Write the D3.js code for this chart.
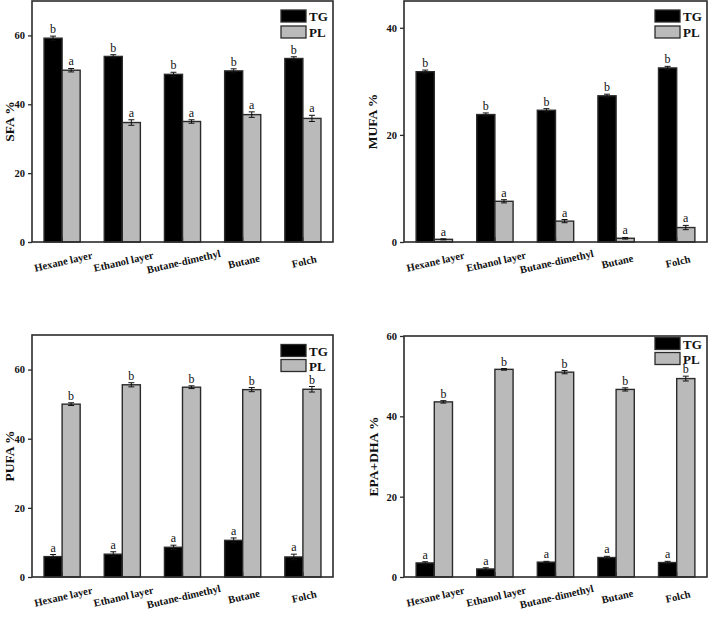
<!DOCTYPE html>
<html>
<head>
<meta charset="utf-8">
<script src="https://cdn.jsdelivr.net/npm/d3@7"></script>
<style>
  html, body { margin: 0; padding: 0; background: #fff; }
  svg { display: block; }
  text { font-family: "Liberation Serif", "Times New Roman", serif; }
</style>
</head>
<body>
<svg id="chart" width="709" height="617"></svg>
<script>
// ---------- data ----------
const categories = ["Hexane layer", "Ethanol layer", "Butane-dimethyl", "Butane", "Folch"];
const series = ["TG", "PL"];

const sfaTG = [59.2, 53.9, 48.7, 49.7, 53.3];
const sfaPL = [49.9, 34.7, 35.0, 37.0, 35.9];
const sfaTGErr = [0.6, 0.5, 0.6, 0.6, 0.5];
const sfaPLErr = [0.5, 0.8, 0.5, 0.8, 0.9];
const sfaTGLetters = ["b", "b", "b", "b", "b"];
const sfaPLLetters = ["a", "a", "a", "a", "a"];
const sfaTicks = [0, 20, 40, 60];

const mufaTG = [31.8, 23.8, 24.6, 27.3, 32.5];
const mufaPL = [0.5, 7.6, 3.9, 0.7, 2.7];
const mufaTGErr = [0.3, 0.3, 0.3, 0.3, 0.3];
const mufaPLErr = [0.1, 0.3, 0.3, 0.15, 0.4];
const mufaTGLetters = ["b", "b", "b", "b", "b"];
const mufaPLLetters = ["a", "a", "a", "a", "a"];
const mufaTicks = [0, 20, 40];

const pufaTG = [5.9, 6.6, 8.6, 10.6, 5.8];
const pufaPL = [50.0, 55.6, 54.9, 54.2, 54.3];
const pufaTGErr = [0.6, 0.7, 0.6, 0.7, 0.8];
const pufaPLErr = [0.4, 0.6, 0.4, 0.6, 0.8];
const pufaTGLetters = ["a", "a", "a", "a", "a"];
const pufaPLLetters = ["b", "b", "b", "b", "b"];
const pufaTicks = [0, 20, 40, 60];

const epaTG = [3.5, 2.0, 3.7, 4.85, 3.6];
const epaPL = [43.6, 51.7, 51.0, 46.7, 49.4];
const epaTGErr = [0.3, 0.3, 0.2, 0.3, 0.3];
const epaPLErr = [0.3, 0.2, 0.4, 0.4, 0.6];
const epaTGLetters = ["a", "a", "a", "a", "a"];
const epaPLLetters = ["b", "b", "b", "b", "b"];
const epaTicks = [0, 20, 40, 60];

const yLabels = ["SFA %", "MUFA %", "PUFA %", "EPA+DHA %"];
const yMaxes = [70, 45, 70, 60];

// ---------- layout ----------
const panels = [
  { title: yLabels[0], tg: sfaTG, pl: sfaPL, tgErr: sfaTGErr, plErr: sfaPLErr, tgL: sfaTGLetters, plL: sfaPLLetters, ticks: sfaTicks, ymax: yMaxes[0],
    left: 32, right: 333, top: 1, bottom: 242, labelX: 13.5, legendY: 10, legendGap: 16 },
  { title: yLabels[1], tg: mufaTG, pl: mufaPL, tgErr: mufaTGErr, plErr: mufaPLErr, tgL: mufaTGLetters, plL: mufaPLLetters, ticks: mufaTicks, ymax: yMaxes[1],
    left: 404, right: 707, top: 1, bottom: 242, labelX: 377, legendY: 10, legendGap: 16 },
  { title: yLabels[2], tg: pufaTG, pl: pufaPL, tgErr: pufaTGErr, plErr: pufaPLErr, tgL: pufaTGLetters, plL: pufaPLLetters, ticks: pufaTicks, ymax: yMaxes[2],
    left: 32, right: 333, top: 335, bottom: 577, labelX: 14, legendY: 344.5, legendGap: 15 },
  { title: yLabels[3], tg: epaTG, pl: epaPL, tgErr: epaTGErr, plErr: epaPLErr, tgL: epaTGLetters, plL: epaPLLetters, ticks: epaTicks, ymax: yMaxes[3],
    left: 404, right: 707, top: 336, bottom: 577, labelX: 378, legendY: 337.5, legendGap: 15 }
];

const fills = { TG: "#000000", PL: "#bababa" };
const strokeCol = "#2b2b2b";

const svg = d3.select("#chart");

panels.forEach(p => {
  const g = svg.append("g");
  const x0 = d3.scaleBand().domain(categories).range([p.left, p.right]).paddingInner(0.4).paddingOuter(0.2);
  const x1 = d3.scaleBand().domain(series).range([0, x0.bandwidth()]);
  const y = d3.scaleLinear().domain([0, p.ymax]).range([p.bottom, p.top]);

  const rows = categories.map((c, i) => ({
    cat: c,
    vals: [
      { s: "TG", v: p.tg[i], e: p.tgErr[i], l: p.tgL[i] },
      { s: "PL", v: p.pl[i], e: p.plErr[i], l: p.plL[i] }
    ]
  }));

  // bars
  const grp = g.selectAll("g.grp").data(rows).enter().append("g")
    .attr("transform", d => `translate(${x0(d.cat)},0)`);
  grp.selectAll("rect").data(d => d.vals).enter().append("rect")
    .attr("x", d => x1(d.s))
    .attr("y", d => y(d.v))
    .attr("width", x1.bandwidth())
    .attr("height", d => y(0) - y(d.v))
    .attr("fill", d => fills[d.s])
    .attr("stroke", strokeCol)
    .attr("stroke-width", 1.4);

  // error bars
  const eb = grp.selectAll("g.eb").data(d => d.vals).enter().append("g")
    .attr("stroke", "#111").attr("stroke-width", 1);
  eb.append("line")
    .attr("x1", d => x1(d.s) + x1.bandwidth() / 2)
    .attr("x2", d => x1(d.s) + x1.bandwidth() / 2)
    .attr("y1", d => y(d.v - d.e))
    .attr("y2", d => y(d.v + d.e));
  [1, -1].forEach(sgn => {
    eb.append("line")
      .attr("x1", d => x1(d.s) + x1.bandwidth() / 2 - 3)
      .attr("x2", d => x1(d.s) + x1.bandwidth() / 2 + 3)
      .attr("y1", d => y(d.v + sgn * d.e))
      .attr("y2", d => y(d.v + sgn * d.e));
  });

  // significance letters
  grp.selectAll("text.sig").data(d => d.vals).enter().append("text")
    .attr("x", d => x1(d.s) + x1.bandwidth() / 2)
    .attr("y", d => y(d.v + d.e) - 3)
    .attr("text-anchor", "middle")
    .attr("font-size", "12px")
    .attr("fill", "#111")
    .text(d => d.l);

  // frame
  g.append("rect")
    .attr("x", p.left).attr("y", p.top)
    .attr("width", p.right - p.left).attr("height", p.bottom - p.top)
    .attr("fill", "none").attr("stroke", strokeCol).attr("stroke-width", 1.6);

  // y axis
  const ya = g.append("g").attr("transform", `translate(${p.left},0)`)
    .call(d3.axisLeft(y).tickValues(p.ticks).tickSize(4).tickSizeOuter(0).tickPadding(3).tickFormat(d3.format("d")));
  ya.select(".domain").remove();
  ya.selectAll("line").attr("stroke", strokeCol).attr("stroke-width", 1.3);
  ya.selectAll("text").attr("font-size", "10.5px").attr("font-weight", "bold")
    .attr("font-family", "'Liberation Serif', serif").attr("fill", "#111");

  // x axis
  const xa = g.append("g").attr("transform", `translate(0,${p.bottom})`)
    .call(d3.axisBottom(x0).tickSize(-5).tickSizeOuter(0));
  xa.select(".domain").remove();
  xa.selectAll("line").attr("stroke", strokeCol).attr("stroke-width", 1.3);
  xa.selectAll("text")
    .attr("y", 0).attr("dy", 0)
    .attr("text-anchor", "middle")
    .attr("transform", "translate(2,23) rotate(-13)")
    .attr("font-size", "10.5px").attr("font-weight", "bold")
    .attr("font-family", "'Liberation Serif', serif").attr("fill", "#111");

  // y label
  g.append("text")
    .attr("transform", `translate(${p.labelX},${(p.top + p.bottom) / 2}) rotate(-90)`)
    .attr("text-anchor", "middle")
    .attr("font-size", "13.5px").attr("font-weight", "bold").attr("fill", "#111")
    .text(p.title);

  // legend
  const lg = g.append("g").attr("transform", `translate(${p.right - 52},${p.legendY})`);
  series.forEach((s, i) => {
    lg.append("rect").attr("x", 0).attr("y", i * p.legendGap).attr("width", 25).attr("height", 12)
      .attr("fill", fills[s]).attr("stroke", strokeCol).attr("stroke-width", 1.3);
    lg.append("text").attr("x", 28).attr("y", i * p.legendGap + 11)
      .attr("font-size", "13px").attr("font-weight", "bold").attr("fill", "#111")
      .text(s);
  });
});
</script>
</body>
</html>
